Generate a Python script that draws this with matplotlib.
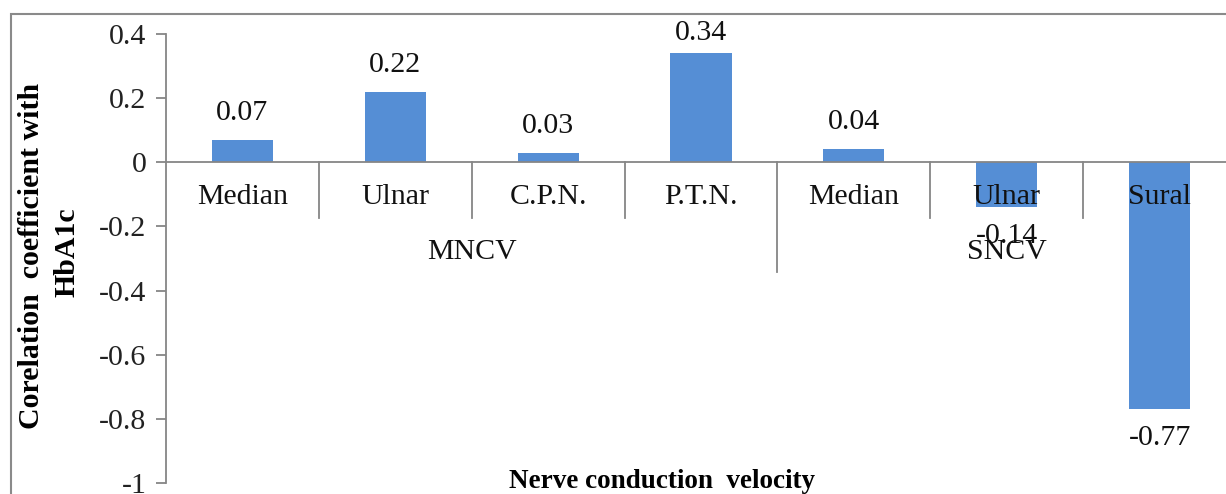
import matplotlib
matplotlib.use("Agg")
import matplotlib.pyplot as plt
from matplotlib.patches import Rectangle

# Data
nerves = ["Median", "Ulnar", "C.P.N.", "P.T.N.", "Median", "Ulnar", "Sural"]
groups = ["MNCV", "SNCV"]
group_sizes = [4, 3]
corr = [0.07, 0.22, 0.03, 0.34, 0.04, -0.14, -0.77]
value_labels = ["0.07", "0.22", "0.03", "0.34", "0.04", "-0.14", "-0.77"]
yticks = [0.4, 0.2, 0, -0.2, -0.4, -0.6, -0.8, -1]
ytick_labels = ["0.4", "0.2", "0", "-0.2", "-0.4", "-0.6", "-0.8", "-1"]

plt.rcParams["font.family"] = ["Liberation Serif", "DejaVu Serif"]
FS = 21.5
BAR = "#558ed5"
AXC = "#868686"
TXT = "#111111"

W, H = 1226, 494
fig = plt.figure(figsize=(W / 100, H / 100), dpi=100)

# plot area in pixels
x0, x1 = 166, 1236
ytop, ybot = 34, 483
ax = fig.add_axes([x0 / W, (H - ybot) / H, (x1 - x0) / W, (ybot - ytop) / H])
ax.set_xlim(0, len(nerves))
ax.set_ylim(-1, 0.4)

xs = [i + 0.5 for i in range(len(nerves))]
ax.bar(xs, corr, width=0.4, color=BAR, zorder=2)

# axes styling
for s in ["top", "right", "bottom"]:
    ax.spines[s].set_visible(False)
ax.spines["left"].set_color(AXC)
ax.spines["left"].set_linewidth(1.3)
ax.set_yticks(yticks)
ax.set_yticklabels(ytick_labels, fontsize=FS, color="#222222")
ax.tick_params(axis="y", direction="out", length=7, width=1.3, color=AXC, pad=7)
ax.set_xticks([])
ax.axhline(0, color=AXC, lw=1.3, zorder=3)

# category separators and labels
inner_depth = -0.174
outer_depth = -0.343
boundaries = []
acc = 0
for n in group_sizes:
    acc += n
    boundaries.append(acc)
for i in range(1, len(nerves)):
    depth = outer_depth if i in boundaries else inner_depth
    ax.plot([i, i], [0, depth], color=AXC, lw=1.3, zorder=1, clip_on=False)
for x, name in zip(xs, nerves):
    ax.text(x, -0.109, name, ha="center", va="center", fontsize=FS,
            color=TXT, zorder=4)
start = 0
for g, n in zip(groups, group_sizes):
    ax.text(start + n / 2, -0.28, g, ha="center", va="center", fontsize=FS,
            color=TXT, zorder=4)
    start += n

# value labels: 27 px from the bar end, kept inside the chart area at the top
px_per_unit = (ybot - ytop) / 1.4
lab_gap = 27 / px_per_unit
top_limit = 0.4 + 1 / px_per_unit
for x, v, lab in zip(xs, corr, value_labels):
    ly = min(v + lab_gap, top_limit) if v >= 0 else v - 29 / px_per_unit
    ax.text(x, ly, lab, ha="center", va="center", fontsize=FS, color=TXT,
            zorder=5, clip_on=False)

# axis titles
fig.text(32 / W, (H - 256) / H, "Corelation  coefficient with",
         rotation=90, ha="center", va="center", fontsize=FS, fontweight="bold")
fig.text(67 / W, (H - 252) / H, "HbA1c",
         rotation=90, ha="center", va="center", fontsize=FS, fontweight="bold")
fig.text(662 / W, (H - 488) / H, "Nerve conduction  velocity",
         ha="center", va="baseline", fontsize=19.5, fontweight="bold")

# chart frame
fig.add_artist(Rectangle((11 / W, -0.2), 1.2, (H - 14) / H + 0.2,
                         transform=fig.transFigure, fill=False,
                         edgecolor="#8a8a8a", lw=1.5))

fig.savefig("out.png", dpi=100)
